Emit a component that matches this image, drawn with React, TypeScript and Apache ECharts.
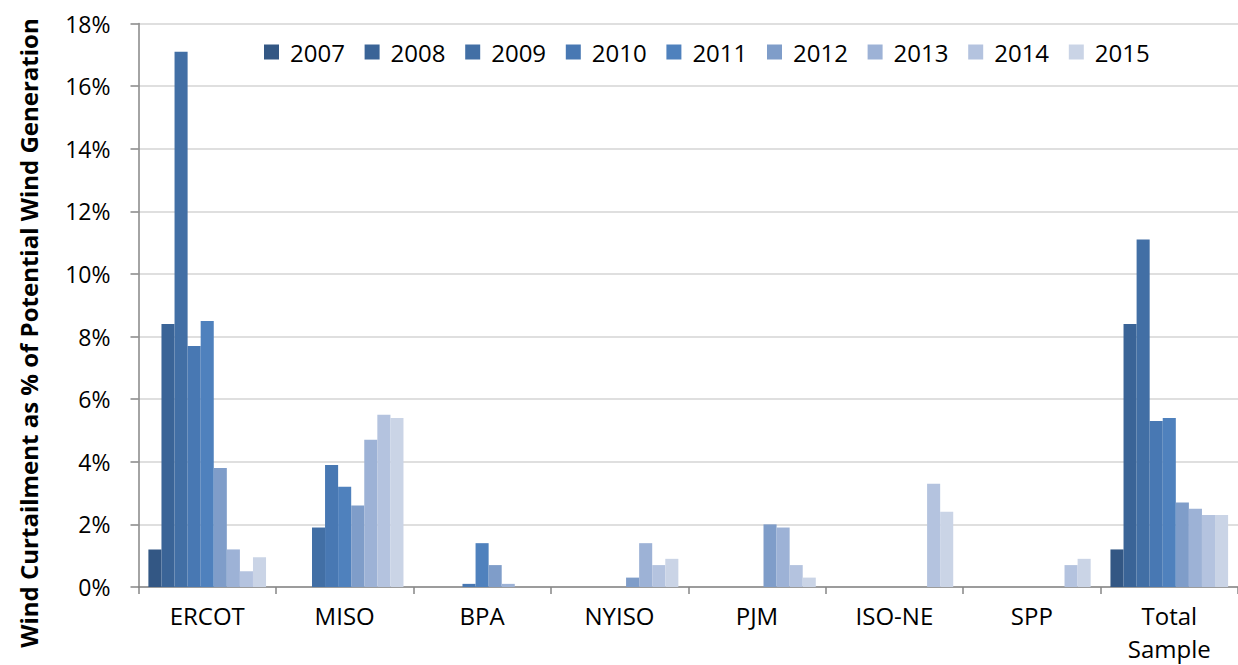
import React, { useEffect, useRef } from "react";
import * as echarts from "echarts";

const categories = ["ERCOT", "MISO", "BPA", "NYISO", "PJM", "ISO-NE", "SPP", "Total\nSample"];
const years = ["2007", "2008", "2009", "2010", "2011", "2012", "2013", "2014", "2015"];
const yearColors = ["#335784", "#3a6497", "#426fa5", "#4878b3", "#4f81bd", "#7f9dc9", "#9db2d6", "#b4c3df", "#cad4e6"];

// values (%) per year, ordered as categories
const v2007 = [1.2, 0, 0, 0, 0, 0, 0, 1.2];
const v2008 = [8.4, 0, 0, 0, 0, 0, 0, 8.4];
const v2009 = [17.1, 1.9, 0, 0, 0, 0, 0, 11.1];
const v2010 = [7.7, 3.9, 0.1, 0, 0, 0, 0, 5.3];
const v2011 = [8.5, 3.2, 1.4, 0, 0, 0, 0, 5.4];
const v2012 = [3.8, 2.6, 0.7, 0.3, 2.0, 0, 0, 2.7];
const v2013 = [1.2, 4.7, 0.1, 1.4, 1.9, 0, 0, 2.5];
const v2014 = [0.5, 5.5, 0, 0.7, 0.7, 3.3, 0.7, 2.3];
const v2015 = [0.95, 5.4, 0, 0.9, 0.3, 2.4, 0.9, 2.3];
const seriesValues = [v2007, v2008, v2009, v2010, v2011, v2012, v2013, v2014, v2015];

const yTicks = { min: 0, max: 18, interval: 2 };
const yTitle = "Wind Curtailment as % of Potential Wind Generation";

const FONT = "'Open Sans', 'Noto Sans', sans-serif";

export default function App() {
  const ref = useRef<HTMLDivElement>(null);
  useEffect(() => {
    if (!ref.current) return;
    const chart = echarts.init(ref.current, undefined, { renderer: "svg" });
    chart.setOption({
      animation: false,
      backgroundColor: "#ffffff",
      textStyle: { fontFamily: FONT },
      grid: { left: 138.5, top: 23.5, right: 0, bottom: 76.5, containLabel: false },
      legend: {
        left: 264,
        top: 40,
        padding: 0,
        itemGap: 0,
        itemWidth: 15,
        itemHeight: 15,
        icon: "rect",
        data: years,
        textStyle: {
          fontFamily: FONT,
          fontSize: 24,
          color: "#000",
          lineHeight: 24,
          width: 74.6,
          padding: [0, 0, 0, 6],
        },
      },
      xAxis: {
        type: "category",
        data: categories,
        axisLine: { show: true, lineStyle: { color: "#868686", width: 1.5 } },
        axisTick: { show: true, interval: 0, length: 7, lineStyle: { color: "#868686", width: 1.5 } },
        axisLabel: { interval: 0, fontSize: 24, color: "#000", margin: 12, lineHeight: 33, fontFamily: FONT },
      },
      yAxis: {
        type: "value",
        min: yTicks.min,
        max: yTicks.max,
        interval: yTicks.interval,
        axisLine: { show: true, lineStyle: { color: "#868686", width: 1.5 } },
        axisTick: { show: true, length: 8, lineStyle: { color: "#868686", width: 1.5 } },
        splitLine: { show: true, lineStyle: { color: "#d4d4d4", width: 1.5 } },
        axisLabel: { formatter: "{value}%", fontSize: 23, color: "#000", margin: 28, fontFamily: FONT },
      },
      graphic: [
        {
          type: "text",
          x: 28,
          y: 333,
          rotation: Math.PI / 2,
          style: {
            text: yTitle,
            fontSize: 24,
            fontWeight: "bold",
            fontFamily: FONT,
            fill: "#000",
            align: "center",
            verticalAlign: "middle",
          },
        },
      ],
      series: years.map((y, i) => ({
        name: y,
        type: "bar",
        data: seriesValues[i],
        barGap: "0%",
        barCategoryGap: "14.4%",
        itemStyle: { color: yearColors[i] },
      })),
    });
    return () => chart.dispose();
  }, []);
  return (
    <div
      ref={ref}
      style={{ position: "absolute", left: 0, top: 0, width: 1238, height: 665 }}
    />
  );
}
